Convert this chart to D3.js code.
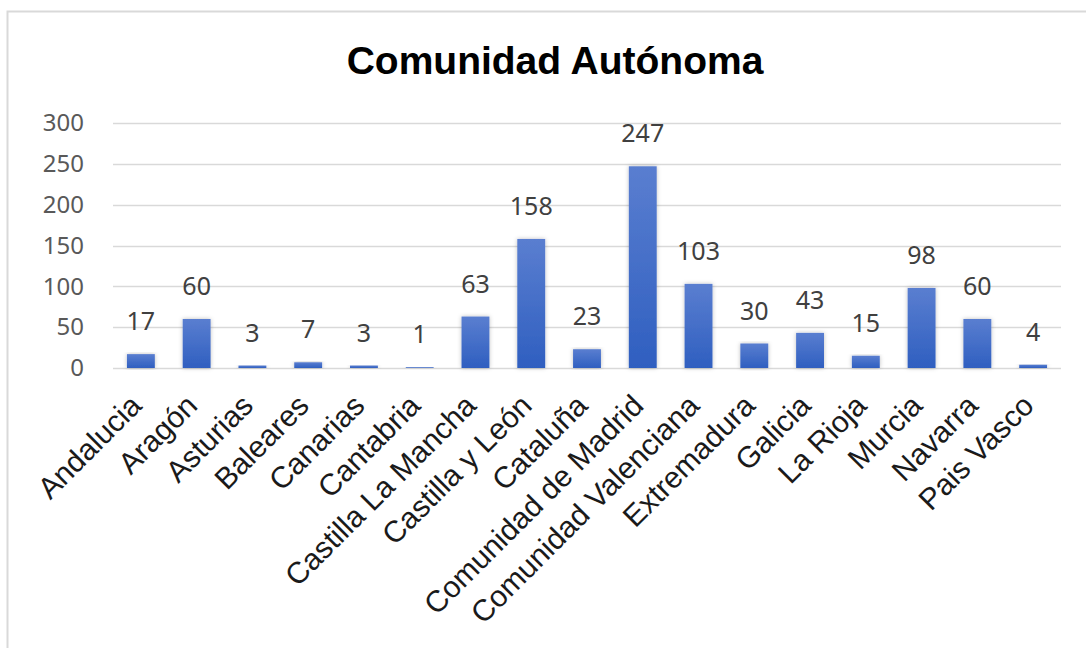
<!DOCTYPE html>
<html>
<head>
<meta charset="utf-8">
<title>Comunidad Autónoma</title>
<script src="https://cdnjs.cloudflare.com/ajax/libs/d3/7.8.5/d3.min.js"></script>
<style>
  body { margin: 0; background: #fff; }
  svg { display: block; }
</style>
</head>
<body>
<svg id="chart"></svg>
<script>
// data
var regiones = ["Andalucia", "Aragón", "Asturias", "Baleares", "Canarias", "Cantabria",
                "Castilla La Mancha", "Castilla y León", "Cataluña", "Comunidad de Madrid",
                "Comunidad Valenciana", "Extremadura", "Galicia", "La Rioja", "Murcia",
                "Navarra", "Pais Vasco"];
var valores = [17, 60, 3, 7, 3, 1, 63, 158, 23, 247, 103, 30, 43, 15, 98, 60, 4];
var yTicks = [0, 50, 100, 150, 200, 250, 300];

var W = 1086, H = 648;
var svg = d3.select("#chart").attr("width", W).attr("height", H);

// outer frame of the chart area (runs off right and bottom edges)
svg.append("rect")
   .attr("x", 7.5).attr("y", 11.5)
   .attr("width", W + 20).attr("height", H + 20)
   .attr("fill", "#fff").attr("stroke", "#d9d9d9").attr("stroke-width", 2);

var defs = svg.append("defs");
var grad = defs.append("linearGradient").attr("id", "barGrad")
               .attr("x1", 0).attr("y1", 0).attr("x2", 0).attr("y2", 1);
grad.append("stop").attr("offset", "0%").attr("stop-color", "#5a7ed0");
grad.append("stop").attr("offset", "100%").attr("stop-color", "#2f5fc0");

var shadow = defs.append("filter").attr("id", "shadow")
                 .attr("x", "-30%").attr("y", "-10%").attr("width", "160%").attr("height", "120%");
shadow.append("feDropShadow").attr("dx", 0).attr("dy", 0).attr("stdDeviation", 2)
      .attr("flood-color", "#000").attr("flood-opacity", 0.25);

var x = d3.scaleBand().domain(regiones).range([113, 1061])
          .paddingInner(0.5).paddingOuter(0.25);
var y = d3.scaleLinear().domain([0, 300]).range([368, 123]);

// gridlines
svg.append("g").selectAll("line")
   .data(yTicks)
   .enter().append("line")
   .attr("x1", 113).attr("x2", 1061)
   .attr("y1", function(d){ return Math.round(y(d)) + 0.5; })
   .attr("y2", function(d){ return Math.round(y(d)) + 0.5; })
   .attr("stroke", "#d9d9d9").attr("stroke-width", 1.5);

// y axis labels
var yAxis = d3.axisLeft(y).tickValues(yTicks).tickSize(0).tickPadding(0);
var yg = svg.append("g").attr("transform", "translate(84,0)").call(yAxis);
yg.select(".domain").remove();
yg.selectAll("text")
  .attr("fill", "#595959")
  .style("font-family", "'Noto Sans', 'Open Sans', sans-serif")
  .style("font-size", "24px");

// bars
svg.append("g").selectAll("rect")
   .data(valores)
   .enter().append("rect")
   .attr("x", function(d, i){ return x(regiones[i]); })
   .attr("y", function(d){ return y(d); })
   .attr("width", x.bandwidth())
   .attr("height", function(d){ return y(0) - y(d); })
   .attr("fill", "url(#barGrad)")
   .attr("filter", "url(#shadow)");

// value labels
svg.append("g").selectAll("text")
   .data(valores)
   .enter().append("text")
   .attr("x", function(d, i){ return x(regiones[i]) + x.bandwidth() / 2; })
   .attr("y", function(d){ return y(d) - 24; })
   .attr("text-anchor", "middle")
   .attr("fill", "#404040")
   .style("font-family", "'Noto Sans', 'Open Sans', sans-serif")
   .style("font-size", "25px")
   .text(function(d){ return d; });

// category labels
var xAxis = d3.axisBottom(x).tickSize(0).tickPadding(0);
var xg = svg.append("g").attr("transform", "translate(0,368)").call(xAxis);
xg.select(".domain").remove();
xg.selectAll("text")
  .attr("x", -5).attr("y", 32).attr("dy", "0.35em")
  .attr("text-anchor", "end")
  .attr("transform", "rotate(-45,-5,32)")
  .attr("fill", "#1a1a1a")
  .style("font-family", "'Liberation Sans', Arial, sans-serif")
  .style("font-size", "30px");

// title
svg.append("text")
   .attr("x", 555).attr("y", 74)
   .attr("text-anchor", "middle")
   .attr("fill", "#000")
   .style("font-family", "'Liberation Sans', Arial, sans-serif")
   .style("font-weight", "bold")
   .style("font-size", "39px")
   .text("Comunidad Autónoma");
</script>
</body>
</html>
